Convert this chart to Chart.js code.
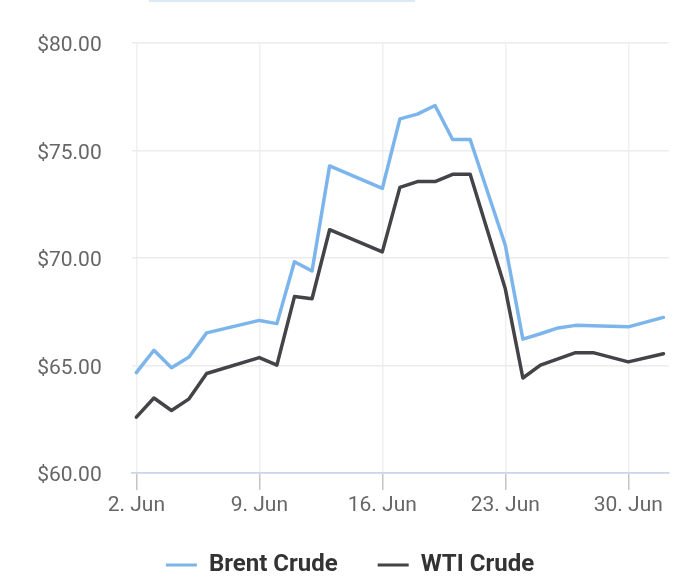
<!DOCTYPE html>
<html>
<head>
<meta charset="utf-8">
<title>Brent vs WTI Crude</title>
<script src="https://cdn.jsdelivr.net/npm/chart.js@4/dist/chart.umd.min.js"></script>
<style>
  html, body { margin: 0; padding: 0; background: #fff; }
  #wrap { position: relative; width: 700px; height: 584px; }
  #topbar { position: absolute; left: 149px; top: 0; width: 266px; height: 2px; background: #dbe8f6; }
</style>
</head>
<body>
<div id="wrap">
  <div id="topbar"></div>
  <canvas id="oil-chart"></canvas>
</div>
<script>
// trading days shown on the chart
const dates = [
  '2025-06-02', '2025-06-03', '2025-06-04', '2025-06-05', '2025-06-06',
  '2025-06-09', '2025-06-10', '2025-06-11', '2025-06-12', '2025-06-13',
  '2025-06-16', '2025-06-17', '2025-06-18', '2025-06-19', '2025-06-20', '2025-06-21',
  '2025-06-23', '2025-06-24', '2025-06-25', '2025-06-26', '2025-06-27', '2025-06-28',
  '2025-06-30', '2025-07-02'
];

// prices in USD per barrel
const brent = [
  64.67, 65.71, 64.90, 65.40, 66.52,
  67.10, 66.95, 69.83, 69.40, 74.29,
  73.24, 76.48, 76.70, 77.10, 75.52, 75.52,
  70.60, 66.23, 66.48, 66.75, 66.87, 66.85,
  66.80, 67.24
];
const wti = [
  62.60, 63.49, 62.91, 63.45, 64.63,
  65.37, 65.02, 68.21, 68.11, 71.32,
  70.29, 73.29, 73.56, 73.56, 73.90, 73.90,
  68.57, 64.42, 65.02, 65.31, 65.60, 65.60,
  65.17, 65.55
];

// x axis ticks, counted in days (1 = 1 June)
const tickDays = [2, 9, 16, 23, 30];
const tickLabels = ['2. Jun', '9. Jun', '16. Jun', '23. Jun', '30. Jun'];

const june1 = Date.UTC(2025, 5, 1);
function dayNumber(s) {
  return (Date.parse(s) - june1) / 86400000 + 1;
}
function points(values) {
  return values.map((v, i) => ({ x: dayNumber(dates[i]), y: v }));
}

document.addEventListener('DOMContentLoaded', function() {
  Chart.defaults.font.family = 'Roboto, "Noto Sans", sans-serif';

  const ctx = document.getElementById('oil-chart').getContext('2d');

  new Chart(ctx, {
    type: 'line',
    data: {
      datasets: [
        {
          label: 'Brent Crude',
          data: points(brent),
          borderColor: '#7cb5ec',
          backgroundColor: '#7cb5ec',
          borderWidth: 3.5,
          pointRadius: 0,
          borderJoinStyle: 'round',
          borderCapStyle: 'round',
          tension: 0
        },
        {
          label: 'WTI Crude',
          data: points(wti),
          borderColor: '#434348',
          backgroundColor: '#434348',
          borderWidth: 3.5,
          pointRadius: 0,
          borderJoinStyle: 'round',
          borderCapStyle: 'round',
          tension: 0
        }
      ]
    },
    options: {
      responsive: true,
      maintainAspectRatio: false,
      animation: false,
      layout: {
        // same left/right padding so the legend centres on the page
        padding: { top: 39.5, right: 31.3, bottom: -3, left: 31.3 }
      },
      plugins: {
        tooltip: { enabled: false },
        legend: {
          position: 'bottom',
          labels: {
            boxWidth: 31,
            boxHeight: 3,
            padding: 40,
            color: '#333333',
            font: { size: 24, weight: 'bold' },
            generateLabels: function(chart) {
              const items = Chart.defaults.plugins.legend.labels.generateLabels(chart);
              items.forEach(function(it) { it.lineWidth = 0; });
              return items;
            }
          }
        }
      },
      scales: {
        x: {
          type: 'linear',
          min: 1.77,
          max: 32.3,
          afterFit: function(scale) { scale.height = 40; },
          afterBuildTicks: function(scale) {
            scale.ticks = tickDays.map(function(d) { return { value: d }; });
          },
          grid: {
            color: '#f0f0f0',
            lineWidth: 1.5,
            tickColor: '#c4c4c4',
            tickLength: 17
          },
          border: { color: '#ccd6eb', width: 1.75 },
          ticks: {
            padding: 3,
            color: '#666666',
            font: { size: 21 },
            maxRotation: 0,
            autoSkip: false,
            callback: function(value, index) { return tickLabels[index]; }
          }
        },
        y: {
          min: 60,
          max: 80,
          afterFit: function(scale) { scale.width = 101; },
          grid: {
            color: '#ececec',
            lineWidth: 1.5,
            drawTicks: false
          },
          border: { display: false },
          ticks: {
            stepSize: 5,
            padding: 30.6,
            labelOffset: 3,
            color: '#666666',
            font: { size: 21 },
            callback: function(value) { return '$' + value.toFixed(2); }
          }
        }
      }
    }
  });
});
</script>
</body>
</html>
